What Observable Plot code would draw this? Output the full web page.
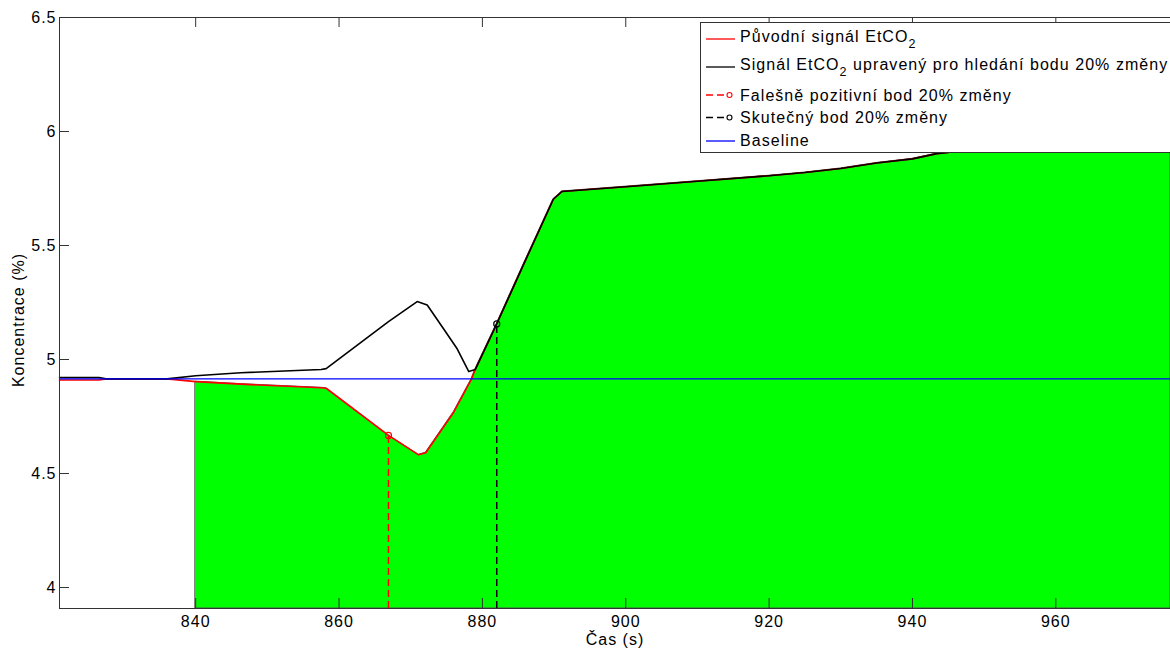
<!DOCTYPE html>
<html>
<head>
<meta charset="utf-8">
<script src="https://cdn.jsdelivr.net/npm/d3@7"></script>
<script src="https://cdn.jsdelivr.net/npm/@observablehq/plot@0.6"></script>
<style>
  html, body { margin: 0; padding: 0; background: #fff; overflow: hidden; }
  #wrap { position: relative; width: 1170px; height: 650px; overflow: hidden; }
  #wrap svg.legend { position: absolute; left: 0; top: 0; pointer-events: none; }
</style>
</head>
<body>
<div id="wrap"></div>
<script>
// Time axis (s) of the original EtCO2 signal and its values (%)
const origTime  = [821, 826.5, 827.5, 836, 840, 846.3, 857.5, 858.2, 866.9, 871.1, 872.1, 876.0, 878.5, 879.0,
                   882.0, 885.5, 889.9, 891.1, 900, 910, 920, 925, 930, 935, 940, 943.4, 945.0];
const origValue = [4.910, 4.910, 4.915, 4.915, 4.903, 4.892, 4.876, 4.874, 4.667, 4.582, 4.591, 4.769, 4.915, 4.956,
                   5.156, 5.400, 5.703, 5.737, 5.758, 5.782, 5.806, 5.820, 5.838, 5.862, 5.880, 5.903, 5.908];

// Signal adjusted for locating the 20 % change point (dip folded above the baseline)
const modTime  = [821, 826.5, 827.5, 836, 840, 846.3, 857.5, 858.2, 866.9, 870.9, 872.3, 874.6, 876.5, 878.1, 879.0,
                  882.0, 885.5, 889.9, 891.1, 900, 910, 920, 925, 930, 935, 940, 943.4, 945.0];
const modValue = [4.921, 4.921, 4.915, 4.915, 4.929, 4.942, 4.956, 4.960, 5.166, 5.254, 5.239, 5.134, 5.046, 4.947, 4.956,
                  5.156, 5.400, 5.703, 5.737, 5.758, 5.782, 5.806, 5.820, 5.838, 5.862, 5.880, 5.903, 5.908];

const baseline = 4.915;

// 20 % change points: false positive on the original signal, true one on the adjusted signal
const falsePoint = {t: 866.9, v: 4.667};
const truePoint  = {t: 882.0, v: 5.156};

// Shaded region: under the original signal from its start time to the right end
const fillStart = 840;
const fillEnd   = 976;
const fillPlateau = 5.908;

// Axes
const xDomain = [821, 976];
const yDomain = [3.908, 6.5];
const xTicks = [840, 860, 880, 900, 920, 940, 960];
const yTicks = [4, 4.5, 5, 5.5, 6, 6.5];
const xLabel = "Čas (s)";
const yLabel = "Koncentrace (%)";

// Legend entries: text before subscript, subscript, text after
const legendItems = [
  {parts: ["Původní signál EtCO", "2", ""], color: "#ff0000", dashed: false, marker: false},
  {parts: ["Signál EtCO", "2", " upravený pro hledání bodu 20% změny"], color: "#000000", dashed: false, marker: false},
  {parts: ["Falešně pozitivní bod 20% změny", "", ""], color: "#ff0000", dashed: true, marker: true},
  {parts: ["Skutečný bod 20% změny", "", ""], color: "#000000", dashed: true, marker: true},
  {parts: ["Baseline", "", ""], color: "#0000ff", dashed: false, marker: false}
];

const orig = origTime.map((t, i) => ({t, v: origValue[i]}));
const mod = modTime.map((t, i) => ({t, v: modValue[i]}));
const fillRows = orig.filter(d => d.t >= fillStart).concat([{t: fillEnd, v: fillPlateau}]);

const axisColor = "#333";
const font = "'Liberation Sans', Arial, Helvetica, sans-serif";

const W = 1170, H = 650, mL = 59, mR = 0, mT = 17, mB = 42;
const tickLen = 10;
const innerW = W - mL - mR, innerH = H - mT - mB;

const chart = Plot.plot({
  width: W,
  height: H,
  marginLeft: mL,
  marginRight: mR,
  marginTop: mT,
  marginBottom: mB,
  style: `font-family: ${font}; font-size: 16px; letter-spacing: 1px; color: #000; background: #fff; overflow: visible;`,
  x: {domain: xDomain},
  y: {domain: yDomain},
  marks: [
    Plot.areaY(fillRows, {x: "t", y1: yDomain[0], y2: "v", fill: "#00ff00", stroke: "#555", strokeWidth: 1}),
    Plot.line(orig, {x: "t", y: "v", stroke: "#ff0000", strokeWidth: 1.6}),
    Plot.line(mod, {x: "t", y: "v", stroke: "#000000", strokeWidth: 1.6}),
    Plot.ruleX([falsePoint], {x: "t", y1: yDomain[0], y2: "v", stroke: "#ff0000", strokeWidth: 1.5, strokeDasharray: "7,4"}),
    Plot.dot([falsePoint], {x: "t", y: "v", r: 3, stroke: "#ff0000", strokeWidth: 1.2, fill: "none"}),
    Plot.ruleX([truePoint], {x: "t", y1: yDomain[0], y2: "v", stroke: "#000000", strokeWidth: 1.5, strokeDasharray: "7,4"}),
    Plot.dot([truePoint], {x: "t", y: "v", r: 3, stroke: "#000000", strokeWidth: 1.2, fill: "none"}),
    Plot.ruleY([baseline], {stroke: "#0000ff", strokeWidth: 1.3}),
    // inward tick marks on bottom, top and left edges
    Plot.ruleX(xTicks, {y1: yDomain[1], y2: yDomain[0], insetTop: innerH - tickLen, stroke: axisColor}),
    Plot.ruleX(xTicks, {y1: yDomain[1], y2: yDomain[0], insetBottom: innerH - tickLen, stroke: axisColor}),
    Plot.ruleY(yTicks, {x1: xDomain[0], x2: xDomain[1], insetRight: innerW - tickLen, stroke: axisColor}),
    // axes box (left, bottom, top)
    Plot.ruleX([xDomain[0]], {stroke: axisColor, strokeWidth: 1}),
    Plot.ruleY([yDomain[0], yDomain[1]], {stroke: axisColor, strokeWidth: 1}),
    Plot.axisX({anchor: "bottom", ticks: xTicks, tickSize: 0, tickPadding: 7, fontSize: 16, label: null}),
    Plot.axisY({anchor: "left", ticks: yTicks, tickSize: 0, tickPadding: 3, fontSize: 16, label: null, tickFormat: d => `${d}`}),
    Plot.text([xLabel], {frameAnchor: "bottom", lineAnchor: "bottom", dy: 36.5, fontSize: 16, fill: "#000"}),
    Plot.text([yLabel], {frameAnchor: "left", textAnchor: "middle", dx: -41, dy: 7, rotate: -90, fontSize: 16, fill: "#000"})
  ]
});

const wrap = document.getElementById("wrap");
wrap.appendChild(chart);

// Legend box drawn over the axes, top right
const lg = d3.select(wrap).append("svg")
  .attr("class", "legend")
  .attr("width", W).attr("height", H)
  .style("font-family", font);

lg.append("rect")
  .attr("x", 700.5).attr("y", 22.5).attr("width", 520).attr("height", 130)
  .attr("fill", "#fff").attr("stroke", axisColor).attr("stroke-width", 1);

const rowLineY = [39, 67, 95, 117.5, 141];
const rowTextDy = [2.8, 3.2, 5.6, 5.6, 5.4];

legendItems.forEach((item, i) => {
  const y = rowLineY[i];
  const g = lg.append("g");
  if (item.dashed) {
    g.append("line").attr("x1", 706).attr("x2", 727).attr("y1", y).attr("y2", y)
      .attr("stroke", item.color).attr("stroke-width", 1.3).attr("stroke-dasharray", "7,4");
  } else {
    g.append("line").attr("x1", 706).attr("x2", 735).attr("y1", y).attr("y2", y)
      .attr("stroke", item.color).attr("stroke-width", 1.3);
  }
  if (item.marker) {
    g.append("circle").attr("cx", 729.5).attr("cy", y).attr("r", 2.5)
      .attr("fill", "none").attr("stroke", item.color).attr("stroke-width", 1.1);
  }
  const t = g.append("text").attr("x", 740).attr("y", y + rowTextDy[i])
    .attr("font-size", 16).attr("letter-spacing", 1.05).attr("fill", "#000");
  t.append("tspan").text(item.parts[0]);
  if (item.parts[1]) {
    t.append("tspan").attr("dy", 6).attr("font-size", 12.5).text(item.parts[1]);
    if (item.parts[2]) t.append("tspan").attr("dy", -6).attr("font-size", 16).text(item.parts[2]);
  }
});
</script>
</body>
</html>
